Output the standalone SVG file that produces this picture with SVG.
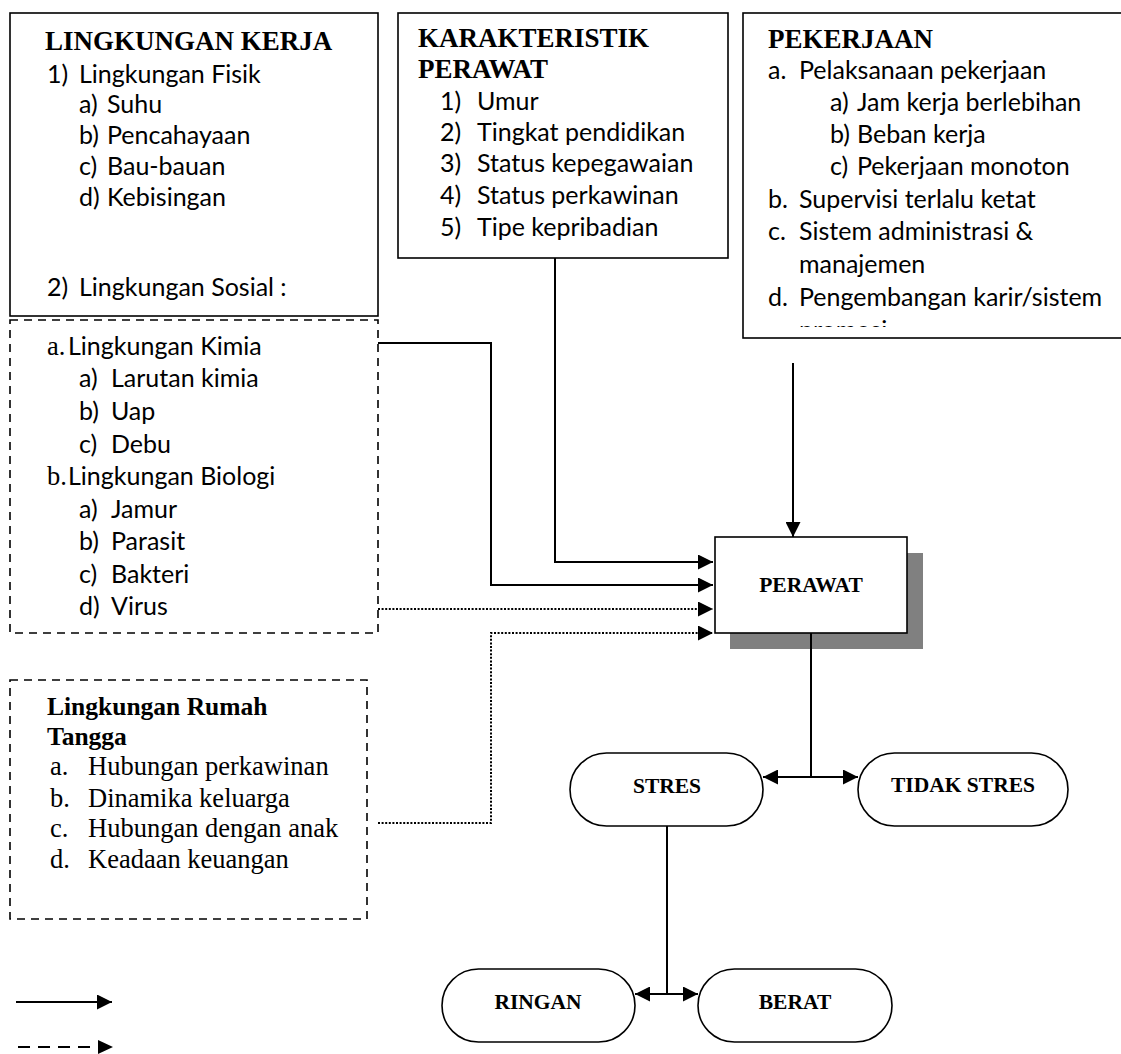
<svg xmlns="http://www.w3.org/2000/svg" width="1121" height="1054" viewBox="0 0 1121 1054">
<style>
.box{fill:#fff;stroke:#000;stroke-width:1.6}
.dbox{fill:#fff;stroke:#000;stroke-width:1.6;stroke-dasharray:8 6}
.pill{fill:#fff;stroke:#000;stroke-width:1.6}
.shadow{fill:#808080;stroke:none}
.t{font-family:"Liberation Serif","Times New Roman",serif;font-weight:bold;font-size:27px;fill:#000}
.b{font-family:Lato,"Liberation Sans",sans-serif;font-size:25px;fill:#000}
.r{font-family:"Liberation Serif","Times New Roman",serif;font-size:26.5px;fill:#000}
.n{font-family:"Liberation Serif","Times New Roman",serif;font-weight:bold;font-size:21.5px;fill:#000;text-anchor:middle}
.c{fill:none;stroke:#000;stroke-width:2}
.d{fill:none;stroke:#000;stroke-width:2;stroke-dasharray:2 1.6}
.lg{fill:none;stroke:#000;stroke-width:2;stroke-dasharray:12 8}
</style>
<defs>
<marker id="ah" viewBox="0 0 15 15" refX="15" refY="7.5" markerWidth="15" markerHeight="15" markerUnits="userSpaceOnUse" orient="auto-start-reverse">
<path d="M0,0 L15,7.5 L0,15 Z" fill="#000"/>
</marker>
<clipPath id="clipP"><rect x="743" y="13" width="400" height="314"/></clipPath>
</defs>

<g id="lingkungan-kerja">
<rect class="box" x="10" y="13" width="368" height="303"/>
<text class="t" x="45" y="50">LINGKUNGAN KERJA</text>
<text class="b" x="47" y="83">1)</text><text class="b" x="79" y="83">Lingkungan Fisik</text>
<text class="b" x="79" y="113">a)</text><text class="b" x="107" y="113">Suhu</text>
<text class="b" x="79" y="144">b)</text><text class="b" x="107" y="144">Pencahayaan</text>
<text class="b" x="79" y="175">c)</text><text class="b" x="107" y="175">Bau-bauan</text>
<text class="b" x="79" y="206">d)</text><text class="b" x="107" y="206">Kebisingan</text>
<text class="b" x="47" y="296">2)</text><text class="b" x="79" y="296">Lingkungan Sosial :</text>
</g>

<g id="lingkungan-kimia-biologi">
<rect class="dbox" x="10" y="320" width="368" height="313"/>
<text class="r" x="47" y="355">a.</text><text class="b" x="68" y="355">Lingkungan Kimia</text>
<text class="b" x="79" y="387">a)</text><text class="b" x="111" y="387">Larutan kimia</text>
<text class="b" x="79" y="420">b)</text><text class="b" x="111" y="420">Uap</text>
<text class="b" x="79" y="453">c)</text><text class="b" x="111" y="453">Debu</text>
<text class="r" x="47" y="485">b.</text><text class="b" x="68" y="485">Lingkungan Biologi</text>
<text class="b" x="79" y="518">a)</text><text class="b" x="111" y="518">Jamur</text>
<text class="b" x="79" y="550">b)</text><text class="b" x="111" y="550">Parasit</text>
<text class="b" x="79" y="583">c)</text><text class="b" x="111" y="583">Bakteri</text>
<text class="b" x="79" y="615">d)</text><text class="b" x="111" y="615">Virus</text>
</g>

<g id="karakteristik-perawat">
<rect class="box" x="398" y="13" width="330" height="245"/>
<text class="t" x="418" y="47">KARAKTERISTIK</text>
<text class="t" x="418" y="78">PERAWAT</text>
<text class="b" x="440" y="110">1)</text><text class="b" x="477" y="110">Umur</text>
<text class="b" x="440" y="141">2)</text><text class="b" x="477" y="141">Tingkat pendidikan</text>
<text class="b" x="440" y="172">3)</text><text class="b" x="477" y="172">Status kepegawaian</text>
<text class="b" x="440" y="204">4)</text><text class="b" x="477" y="204">Status perkawinan</text>
<text class="b" x="440" y="236">5)</text><text class="b" x="477" y="236">Tipe kepribadian</text>
</g>

<g id="pekerjaan">
<rect class="box" x="743" y="13" width="400" height="325"/>
<text class="t" x="768" y="48">PEKERJAAN</text>
<text class="b" x="768" y="79">a.</text><text class="b" x="799" y="79">Pelaksanaan pekerjaan</text>
<text class="b" x="830" y="111">a)</text><text class="b" x="857" y="111">Jam kerja berlebihan</text>
<text class="b" x="830" y="143">b)</text><text class="b" x="857" y="143">Beban kerja</text>
<text class="b" x="830" y="175">c)</text><text class="b" x="857" y="175">Pekerjaan monoton</text>
<text class="b" x="768" y="208">b.</text><text class="b" x="799" y="208">Supervisi terlalu ketat</text>
<text class="b" x="768" y="240">c.</text><text class="b" x="799" y="240">Sistem administrasi &amp;</text>
<text class="b" x="799" y="273">manajemen</text>
<text class="b" x="768" y="306">d.</text><text class="b" x="799" y="306">Pengembangan karir/sistem</text>
<text class="b" x="799" y="339" clip-path="url(#clipP)">promosi</text>
</g>

<g id="lingkungan-rumah-tangga">
<rect class="dbox" x="10" y="680" width="357" height="239"/>
<text class="t" x="47" y="715" style="font-size:25.5px">Lingkungan Rumah</text>
<text class="t" x="47" y="745" style="font-size:25.5px">Tangga</text>
<text class="r" x="50" y="775">a.</text><text class="r" x="88" y="775">Hubungan perkawinan</text>
<text class="r" x="50" y="807">b.</text><text class="r" x="88" y="807">Dinamika keluarga</text>
<text class="r" x="50" y="837">c.</text><text class="r" x="88" y="837">Hubungan dengan anak</text>
<text class="r" x="50" y="868">d.</text><text class="r" x="88" y="868">Keadaan keuangan</text>
</g>

<g id="perawat">
<rect class="shadow" x="730" y="553" width="193" height="96"/>
<rect class="box" x="715" y="537" width="192" height="96"/>
<text class="n" x="811" y="592">PERAWAT</text>
</g>

<g id="stres">
<rect class="pill" x="570" y="753" width="193" height="73" rx="36.5"/>
<text class="n" x="667" y="793">STRES</text>
</g>
<g id="tidak-stres">
<rect class="pill" x="858" y="753" width="210" height="73" rx="36.5"/>
<text class="n" x="963" y="792">TIDAK STRES</text>
</g>
<g id="ringan">
<rect class="pill" x="442" y="969" width="193" height="73" rx="36.5"/>
<text class="n" x="538" y="1009">RINGAN</text>
</g>
<g id="berat">
<rect class="pill" x="698" y="969" width="194" height="73" rx="36.5"/>
<text class="n" x="795" y="1009">BERAT</text>
</g>

<g id="connectors">
<path class="c" d="M555,258 V562 H713" marker-end="url(#ah)"/>
<path class="c" d="M378,343 H491 V585 H713" marker-end="url(#ah)"/>
<path class="d" d="M378,609 H713" marker-end="url(#ah)"/>
<path class="d" d="M378,823 H491 V633 H713" marker-end="url(#ah)"/>
<path class="c" d="M793,363 V537" marker-end="url(#ah)"/>
<path class="c" d="M811,633 V777"/>
<path class="c" d="M763,777 H858" marker-start="url(#ah)" marker-end="url(#ah)"/>
<path class="c" d="M667,826 V994"/>
<path class="c" d="M635,994 H698" marker-start="url(#ah)" marker-end="url(#ah)"/>
</g>

<g id="legend">
<path class="c" d="M16,1002 H112" marker-end="url(#ah)"/>
<path class="lg" d="M18,1047 H92"/>
<path d="M98,1040 L113,1047 L98,1054 Z" fill="#000"/>
</g>
</svg>
